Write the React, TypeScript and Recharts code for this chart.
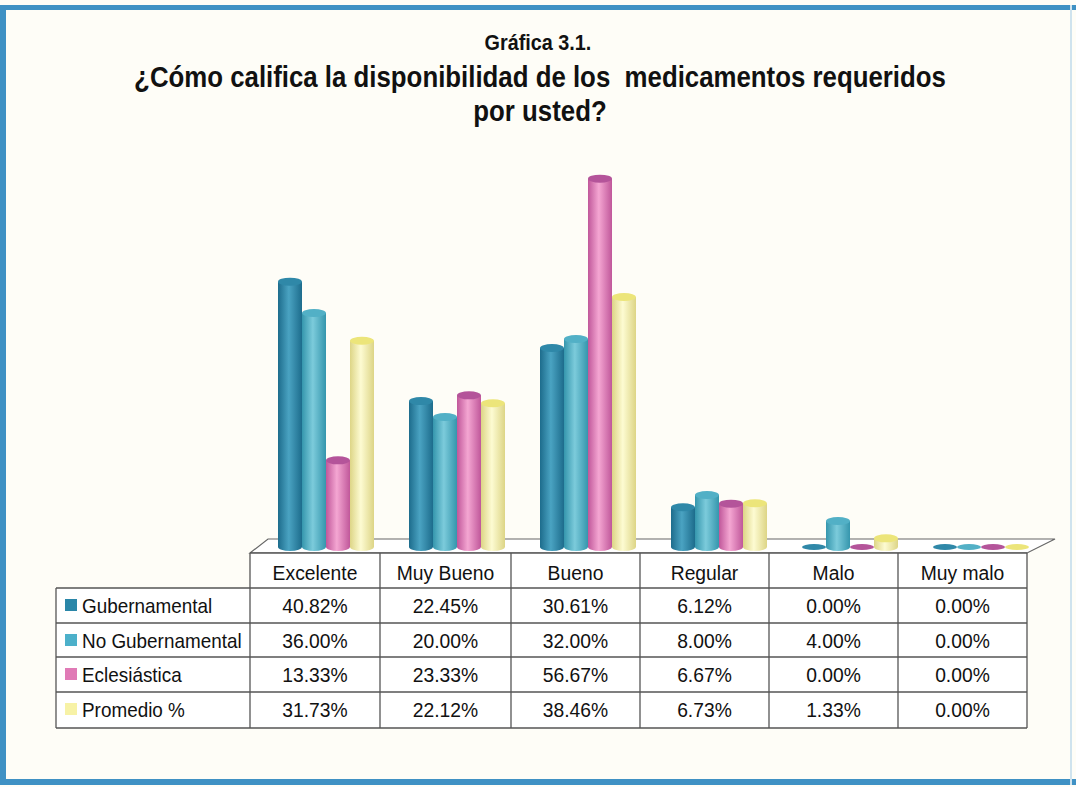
import React from 'react';
import { BarChart, Bar, XAxis, YAxis } from 'recharts';

const categories = ['Excelente', 'Muy Bueno', 'Bueno', 'Regular', 'Malo', 'Muy malo'];
const gubernamental = [40.82, 22.45, 30.61, 6.12, 0.0, 0.0];
const noGubernamental = [36.0, 20.0, 32.0, 8.0, 4.0, 0.0];
const eclesiastica = [13.33, 23.33, 56.67, 6.67, 0.0, 0.0];
const promedio = [31.73, 22.12, 38.46, 6.73, 1.33, 0.0];
const seriesNames = ['Gubernamental', 'No Gubernamental', 'Eclesiástica', 'Promedio %'];
const seriesKeys = ['gub', 'nogub', 'ecl', 'prom'];
const seriesValues = [gubernamental, noGubernamental, eclesiastica, promedio];
const seriesColors = [
  { edge: '#1d6c8c', mid: '#4aa3c2', top: '#2f88a8', legend: '#2a86a8' },
  { edge: '#3596ad', mid: '#7ccbdb', top: '#52b0c6', legend: '#4cb0ca' },
  { edge: '#c0579a', mid: '#f4a6d2', top: '#b4549a', legend: '#e07ab6' },
  { edge: '#ddd586', mid: '#fdfbd2', top: '#ece57a', legend: '#f7f2a6' },
];

const data = categories.map((c, i) => ({
  name: c,
  gub: gubernamental[i],
  nogub: noGubernamental[i],
  ecl: eclesiastica[i],
  prom: promedio[i],
}));

const FONT = "'Liberation Sans Narrow', 'Arial Narrow', 'Liberation Sans', Arial, sans-serif";

const makeShape = (idx: number) => (props: any) => {
  const { x, y, width, height } = props;
  const w = width;
  const ry = 4;
  const cx = x + w / 2;
  const c = seriesColors[idx];
  if (!height || height < 1) {
    return <ellipse cx={cx} cy={y + (height || 0)} rx={w / 2} ry={3} fill={c.top} />;
  }
  const base = y + height;
  return (
    <g>
      <path
        d={`M ${x} ${y} L ${x} ${base} A ${w / 2} ${ry} 0 0 0 ${x + w} ${base} L ${x + w} ${y} Z`}
        fill={`url(#grad${idx})`}
      />
      <ellipse cx={cx} cy={y} rx={w / 2} ry={ry} fill={c.top} />
    </g>
  );
};

const colX = [250, 380, 511, 640, 769, 898, 1027];
const rowY = [553, 588, 623, 657, 692, 728];

export default function App() {
  return (
    <div
      style={{
        position: 'absolute',
        left: 0,
        top: 0,
        width: 1076,
        height: 787,
        background: '#fefdf7',
        overflow: 'hidden',
        fontFamily: FONT,
      }}
    >
      {/* frame */}
      <div style={{ position: 'absolute', left: 0, top: 5, width: 1076, height: 5, background: '#3f91c4' }} />
      <div style={{ position: 'absolute', left: 0, top: 5, width: 6, height: 780, background: '#3f91c4' }} />
      <div style={{ position: 'absolute', left: 0, top: 779, width: 1076, height: 6, background: '#3f91c4' }} />
      <div style={{ position: 'absolute', left: 1070, top: 5, width: 2, height: 780, background: '#cfe3ee' }} />

      {/* titles */}
      <div style={{ position: 'absolute', left: 0, top: 30, width: 1076, textAlign: 'center', fontWeight: 'bold', fontSize: 22, color: '#111', transform: 'scaleX(0.9)' }}>
        Gráfica 3.1.
      </div>
      <div style={{ position: 'absolute', left: 0, top: 60, width: 1080, textAlign: 'center', fontWeight: 'bold', fontSize: 29, color: '#111', lineHeight: '34px', transform: 'scaleX(0.89)' }}>
        ¿Cómo califica la disponibilidad de los&nbsp; medicamentos requeridos
        <br />
        por usted?
      </div>

      {/* floor */}
      <svg style={{ position: 'absolute', left: 0, top: 0 }} width={1076} height={787}>
        <polygon points="250,553 268,539 1055,539 1027,553" fill="#ffffff" stroke="#666" strokeWidth={1.2} />
      </svg>

      <div style={{ position: 'absolute', left: 0, top: 0 }}>
        <BarChart
          width={1076}
          height={787}
          data={data}
          margin={{ top: 157, right: 30, bottom: 240, left: 260 }}
          barCategoryGap={17}
          barGap={0}
        >
          <defs>
            {seriesColors.map((c, i) => (
              <linearGradient key={i} id={`grad${i}`} x1="0" y1="0" x2="1" y2="0">
                <stop offset="0%" stopColor={c.edge} />
                <stop offset="45%" stopColor={c.mid} />
                <stop offset="100%" stopColor={c.edge} />
              </linearGradient>
            ))}
          </defs>
          <XAxis dataKey="name" hide />
          <YAxis domain={[0, 60]} hide />
          {seriesKeys.map((k, i) => (
            <Bar
              key={k}
              dataKey={k}
              name={seriesNames[i]}
              barSize={24}
              shape={makeShape(i)}
              isAnimationActive={false}
            />
          ))}
        </BarChart>
      </div>

      {/* data table */}
      <svg style={{ position: 'absolute', left: 0, top: 0 }} width={1076} height={787}>
        <rect x={colX[0]} y={rowY[0]} width={colX[6] - colX[0]} height={rowY[5] - rowY[0]} fill="#fff" />
        <rect x={56} y={rowY[1]} width={colX[6] - 56} height={rowY[5] - rowY[1]} fill="#fff" />
        <g stroke="#555" strokeWidth={1.3} fill="none">
          <line x1={colX[0]} y1={rowY[0]} x2={colX[6]} y2={rowY[0]} />
          {rowY.slice(1).map((y, i) => (
            <line key={i} x1={56} y1={y} x2={colX[6]} y2={y} />
          ))}
          <line x1={56} y1={rowY[1]} x2={56} y2={rowY[5]} />
          {colX.map((x, i) => (
            <line key={i} x1={x} y1={rowY[0]} x2={x} y2={rowY[5]} />
          ))}
        </g>
        <g fontFamily={FONT} fontSize={21} fill="#111">
          {categories.map((c, i) => (
            <text key={c} transform={`translate(${(colX[i] + colX[i + 1]) / 2}, ${rowY[0] + 27}) scale(0.92,1)`} textAnchor="middle">
              {c}
            </text>
          ))}
          {seriesNames.map((s, r) => (
            <g key={s}>
              <rect x={65} y={rowY[r + 1] + 11} width={12} height={12} fill={seriesColors[r].legend} />
              <text transform={`translate(82, ${rowY[r + 1] + 25}) scale(0.9,1)`}>{s}</text>
              {seriesValues[r].map((v, i) => (
                <text key={i} transform={`translate(${(colX[i] + colX[i + 1]) / 2}, ${rowY[r + 1] + 25}) scale(0.92,1)`} textAnchor="middle">
                  {v.toFixed(2) + '%'}
                </text>
              ))}
            </g>
          ))}
        </g>
      </svg>
    </div>
  );
}
